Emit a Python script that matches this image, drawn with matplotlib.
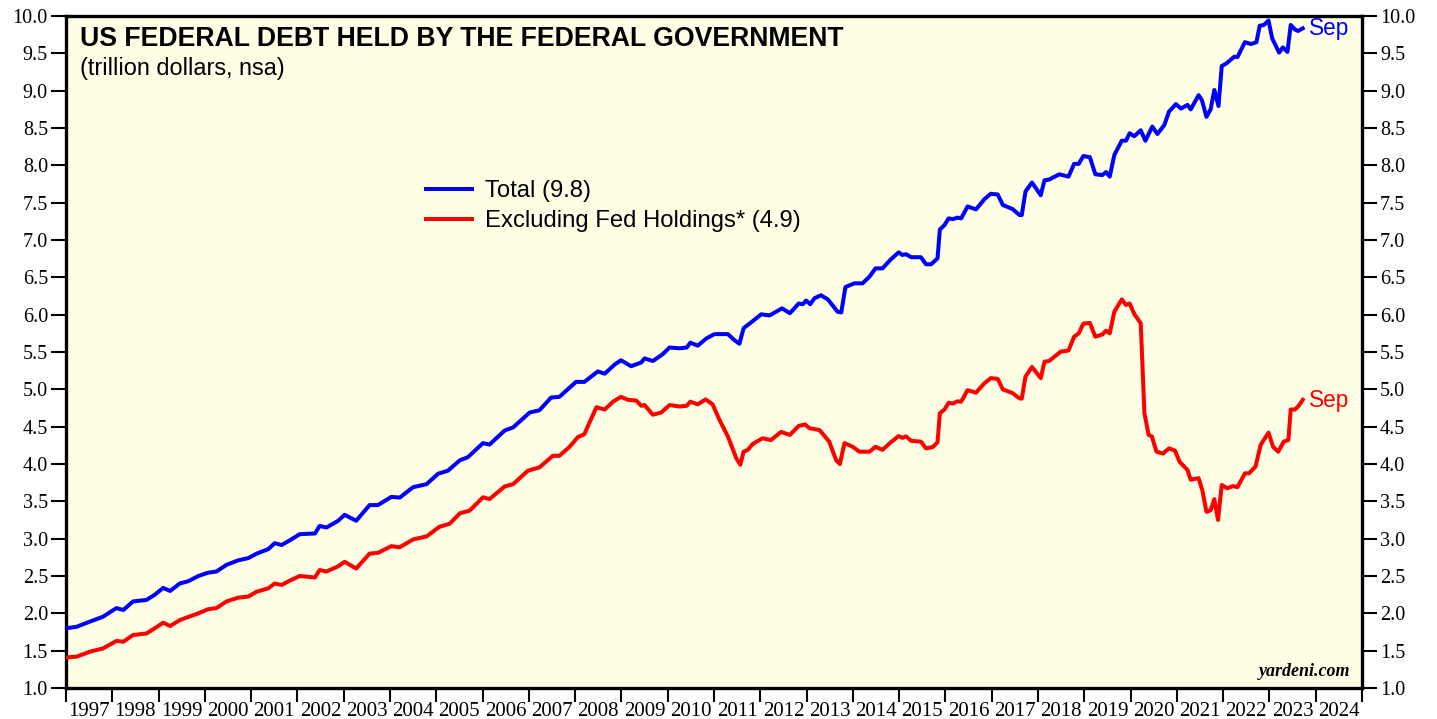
"""US federal debt held by the federal government, total vs. excluding Fed holdings."""

import matplotlib
matplotlib.use("Agg")
import matplotlib.pyplot as plt  # noqa: E402
from matplotlib.ticker import FixedLocator, MultipleLocator, NullFormatter  # noqa: E402

BLUE = "#0000ff"
RED = "#ff0000"
PANEL_BG = "#ffffe6"
SANS = "Liberation Sans"
SERIF = "Liberation Serif"

# decimal year, trillion dollars
total_t = [
    1997.00, 1997.23, 1997.52, 1997.80, 1998.09, 1998.24, 1998.45, 1998.74, 1998.92, 1999.10,
    1999.25, 1999.46, 1999.64, 1999.86, 2000.07, 2000.25, 2000.47, 2000.72, 2000.94, 2001.12,
    2001.37, 2001.51, 2001.66, 2001.84, 2002.05, 2002.38, 2002.48, 2002.63, 2002.88, 2003.02,
    2003.27, 2003.56, 2003.74, 2004.03, 2004.21, 2004.50, 2004.79, 2005.04, 2005.25, 2005.51,
    2005.68, 2006.01, 2006.15, 2006.48, 2006.66, 2007.02, 2007.23, 2007.48, 2007.66, 2008.02,
    2008.20, 2008.49, 2008.64, 2008.85, 2008.99, 2009.21, 2009.43, 2009.50, 2009.68, 2009.89,
    2010.04, 2010.26, 2010.41, 2010.49, 2010.65, 2010.83, 2011.01, 2011.30, 2011.44, 2011.55,
    2011.64, 2011.84, 2012.02, 2012.20, 2012.34, 2012.47, 2012.64, 2012.83, 2012.92, 2012.99,
    2013.08, 2013.17, 2013.31, 2013.46, 2013.67, 2013.75, 2013.84, 2014.03, 2014.21, 2014.36,
    2014.49, 2014.64, 2014.82, 2014.99, 2015.07, 2015.15, 2015.26, 2015.47, 2015.58, 2015.69,
    2015.83, 2015.88, 2015.98, 2016.07, 2016.16, 2016.26, 2016.34, 2016.48, 2016.66, 2016.84,
    2016.98, 2017.13, 2017.24, 2017.45, 2017.60, 2017.65, 2017.73, 2017.87, 2018.06, 2018.14,
    2018.24, 2018.46, 2018.66, 2018.78, 2018.88, 2018.98, 2019.12, 2019.24, 2019.39, 2019.47,
    2019.55, 2019.65, 2019.81, 2019.90, 2019.98, 2020.08, 2020.22, 2020.32, 2020.47, 2020.58,
    2020.73, 2020.83, 2020.98, 2021.09, 2021.23, 2021.30, 2021.47, 2021.54, 2021.64, 2021.73,
    2021.81, 2021.90, 2021.97, 2022.07, 2022.24, 2022.31, 2022.47, 2022.60, 2022.72, 2022.79,
    2022.88, 2022.98, 2023.06, 2023.21, 2023.29, 2023.39, 2023.46, 2023.55, 2023.62, 2023.72,
]
total_v = [
    1.80, 1.82, 1.89, 1.955, 2.07, 2.045, 2.16, 2.18, 2.25, 2.34,
    2.30, 2.40, 2.43, 2.50, 2.545, 2.56, 2.65, 2.71, 2.74, 2.80,
    2.86, 2.94, 2.915, 2.98, 3.06, 3.07, 3.17, 3.15, 3.24, 3.32,
    3.24, 3.45, 3.45, 3.56, 3.55, 3.69, 3.73, 3.87, 3.91, 4.05,
    4.09, 4.28, 4.26, 4.45, 4.49, 4.69, 4.72, 4.89, 4.90, 5.10,
    5.10, 5.24, 5.21, 5.33, 5.39, 5.31, 5.36, 5.415, 5.38, 5.47,
    5.56, 5.55, 5.56, 5.625, 5.585, 5.68, 5.74, 5.74, 5.66, 5.61,
    5.82, 5.915, 6.005, 5.99, 6.04, 6.085, 6.02, 6.15, 6.14, 6.19,
    6.14, 6.22, 6.26, 6.205, 6.04, 6.03, 6.37, 6.42, 6.42, 6.51,
    6.62, 6.62, 6.74, 6.835, 6.80, 6.81, 6.77, 6.77, 6.675, 6.675,
    6.755, 7.14, 7.20, 7.29, 7.28, 7.30, 7.29, 7.45, 7.41, 7.545,
    7.62, 7.61, 7.47, 7.415, 7.335, 7.335, 7.65, 7.77, 7.60, 7.80,
    7.81, 7.88, 7.85, 8.02, 8.02, 8.125, 8.11, 7.88, 7.87, 7.91,
    7.85, 8.14, 8.33, 8.33, 8.43, 8.39, 8.47, 8.33, 8.52, 8.42,
    8.54, 8.72, 8.82, 8.76, 8.81, 8.75, 8.94, 8.875, 8.65, 8.75,
    9.01, 8.795, 9.33, 9.365, 9.455, 9.45, 9.65, 9.625, 9.65, 9.87,
    9.88, 9.94, 9.70, 9.51, 9.58, 9.52, 9.88, 9.82, 9.80, 9.835,
]

excl_t = [
    1997.00, 1997.23, 1997.52, 1997.80, 1998.09, 1998.24, 1998.45, 1998.74, 1998.92, 1999.10,
    1999.25, 1999.46, 1999.64, 1999.86, 2000.07, 2000.25, 2000.47, 2000.72, 2000.94, 2001.12,
    2001.37, 2001.51, 2001.66, 2001.84, 2002.05, 2002.38, 2002.48, 2002.63, 2002.88, 2003.02,
    2003.27, 2003.56, 2003.74, 2004.03, 2004.21, 2004.50, 2004.79, 2005.07, 2005.29, 2005.51,
    2005.72, 2006.01, 2006.15, 2006.48, 2006.66, 2006.98, 2007.23, 2007.52, 2007.66, 2007.88,
    2008.06, 2008.20, 2008.35, 2008.46, 2008.64, 2008.82, 2008.99, 2009.14, 2009.32, 2009.43,
    2009.50, 2009.68, 2009.86, 2010.04, 2010.26, 2010.41, 2010.49, 2010.65, 2010.82, 2010.97,
    2011.12, 2011.30, 2011.48, 2011.57, 2011.64, 2011.73, 2011.84, 2012.05, 2012.23, 2012.45,
    2012.64, 2012.83, 2012.97, 2013.06, 2013.28, 2013.49, 2013.64, 2013.72, 2013.82, 2014.00,
    2014.14, 2014.36, 2014.49, 2014.64, 2014.82, 2014.99, 2015.07, 2015.15, 2015.26, 2015.47,
    2015.58, 2015.72, 2015.83, 2015.88, 2015.98, 2016.07, 2016.16, 2016.26, 2016.34, 2016.48,
    2016.66, 2016.84, 2016.98, 2017.13, 2017.24, 2017.45, 2017.60, 2017.65, 2017.73, 2017.87,
    2018.06, 2018.14, 2018.24, 2018.49, 2018.66, 2018.78, 2018.88, 2018.98, 2019.12, 2019.24,
    2019.39, 2019.47, 2019.55, 2019.65, 2019.81, 2019.90, 2019.98, 2020.08, 2020.22, 2020.30,
    2020.39, 2020.46, 2020.56, 2020.70, 2020.83, 2020.96, 2021.06, 2021.23, 2021.30, 2021.47,
    2021.55, 2021.64, 2021.73, 2021.81, 2021.89, 2021.97, 2022.09, 2022.21, 2022.31, 2022.47,
    2022.56, 2022.70, 2022.81, 2022.98, 2023.08, 2023.19, 2023.31, 2023.41, 2023.46, 2023.55,
    2023.62, 2023.72,
]
excl_v = [
    1.41, 1.42, 1.487, 1.53, 1.63, 1.62, 1.71, 1.73, 1.80, 1.875,
    1.83, 1.91, 1.95, 2.00, 2.055, 2.07, 2.16, 2.21, 2.225, 2.29,
    2.335, 2.40, 2.38, 2.44, 2.50, 2.48, 2.58, 2.56, 2.63, 2.69,
    2.60, 2.80, 2.81, 2.90, 2.885, 2.99, 3.03, 3.16, 3.20, 3.34,
    3.375, 3.555, 3.53, 3.70, 3.73, 3.91, 3.955, 4.11, 4.11, 4.23,
    4.36, 4.40, 4.61, 4.76, 4.73, 4.835, 4.90, 4.86, 4.85, 4.78,
    4.79, 4.66, 4.69, 4.79, 4.77, 4.78, 4.835, 4.80, 4.865, 4.80,
    4.59, 4.37, 4.08, 3.99, 4.165, 4.19, 4.27, 4.345, 4.32, 4.43,
    4.39, 4.51, 4.53, 4.48, 4.455, 4.30, 4.05, 4.00, 4.28, 4.23,
    4.165, 4.165, 4.23, 4.19, 4.29, 4.375, 4.35, 4.37, 4.31, 4.30,
    4.21, 4.225, 4.29, 4.68, 4.73, 4.82, 4.81, 4.84, 4.835, 4.99,
    4.955, 5.08, 5.15, 5.14, 5.00, 4.95, 4.88, 4.875, 5.17, 5.30,
    5.15, 5.37, 5.38, 5.505, 5.52, 5.705, 5.75, 5.88, 5.89, 5.705,
    5.735, 5.785, 5.75, 6.04, 6.205, 6.13, 6.15, 6.01, 5.885, 4.68,
    4.39, 4.37, 4.165, 4.14, 4.21, 4.18, 4.03, 3.92, 3.79, 3.81,
    3.65, 3.36, 3.38, 3.53, 3.25, 3.72, 3.675, 3.705, 3.69, 3.875,
    3.875, 3.965, 4.255, 4.42, 4.23, 4.165, 4.30, 4.32, 4.73, 4.73,
    4.77, 4.86,
]

years = list(range(1997, 2025))
legend_labels = ["Total (9.8)", "Excluding Fed Holdings* (4.9)"]


def main() -> None:
    fig = plt.figure(figsize=(14.37, 7.19), dpi=100)
    ax = fig.add_axes([0.0459, 0.0431, 0.9019, 0.9346])
    ax.set_facecolor(PANEL_BG)

    ax.plot(total_t, total_v, color=BLUE, linewidth=2.9, solid_joinstyle="round",
            label=legend_labels[0], zorder=3)
    ax.plot(excl_t, excl_v, color=RED, linewidth=2.9, solid_joinstyle="round",
            label=legend_labels[1], zorder=3)

    ax.set_xlim(years[0], years[-1] + 1)
    ax.set_ylim(1.0, 10.0)

    # y axis: ticks & labels on both sides
    ax.yaxis.set_major_locator(MultipleLocator(0.5))
    ax.yaxis.set_major_formatter(plt.FuncFormatter(lambda v, _p: f"{v:.1f}"))
    ax.tick_params(axis="y", which="major", direction="out", length=11, width=1.5,
                   left=True, right=True, labelleft=True, labelright=True,
                   labelsize=14.5, pad=2)

    # x axis: year boundaries as long ticks, labels centred on each year
    ax.xaxis.set_major_locator(FixedLocator(years + [years[-1] + 1]))
    ax.xaxis.set_major_formatter(NullFormatter())
    ax.xaxis.set_minor_locator(FixedLocator([y + 0.5 for y in years]))
    ax.set_xticklabels([str(y) for y in years], minor=True)
    ax.tick_params(axis="x", which="major", direction="out", length=10, width=1.5)
    ax.tick_params(axis="x", which="minor", length=0, labelsize=15, pad=10)

    for lbl in ax.get_xticklabels(minor=True) + ax.get_yticklabels():
        lbl.set_fontfamily(SERIF)
    for lbl in ax.yaxis.get_ticklabels(which="major"):
        lbl.set_fontfamily(SERIF)

    for side in ("top", "bottom", "left", "right"):
        ax.spines[side].set_linewidth(2.4)

    ax.text(0.011, 0.966, "US FEDERAL DEBT HELD BY THE FEDERAL GOVERNMENT",
            transform=ax.transAxes, fontsize=19.2, fontweight="bold",
            family=SANS, va="center", ha="left")
    ax.text(0.011, 0.922, "(trillion dollars, nsa)", transform=ax.transAxes,
            fontsize=16.9, family=SANS, va="center", ha="left")

    ax.legend(loc="upper left", bbox_to_anchor=(0.278, 0.7555), frameon=False,
              prop={"family": SANS, "size": 17.2}, handlelength=1.9,
              handletextpad=0.58, labelspacing=0.33, borderpad=0, borderaxespad=0)

    ax.annotate("Sep", xy=(total_t[-1], total_v[-1]), xytext=(4.5, 0),
                textcoords="offset points", color=BLUE, fontsize=16.3,
                family=SANS, va="center", ha="left")
    ax.annotate("Sep", xy=(excl_t[-1], excl_v[-1]), xytext=(4.5, -0.5),
                textcoords="offset points", color=RED, fontsize=16.3,
                family=SANS, va="center", ha="left")

    ax.text(0.991, 0.025, "yardeni.com", transform=ax.transAxes, fontsize=13,
            family=SERIF, fontweight="bold", style="italic", ha="right", va="center")

    fig.savefig("out.png", dpi=100)
    plt.close(fig)


if __name__ == "__main__":
    main()
